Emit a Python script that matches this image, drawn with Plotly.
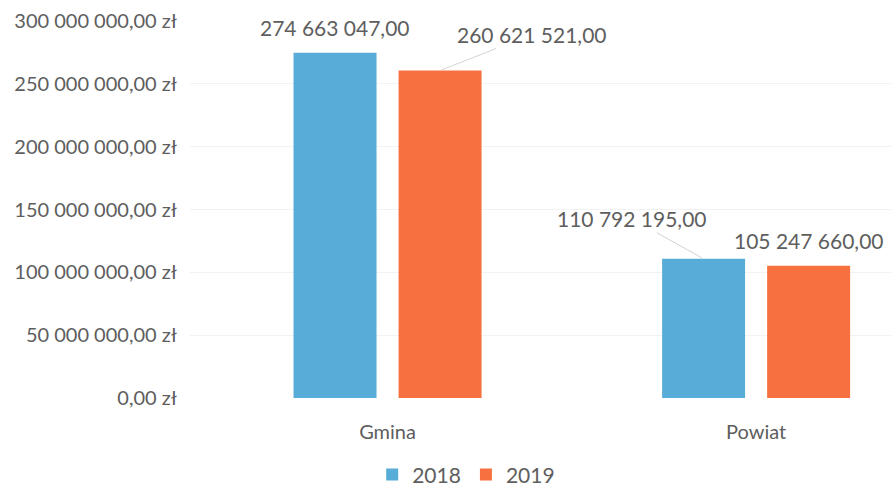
import plotly.graph_objects as go

categories = ["Gmina", "Powiat"]
series_names = ["2018", "2019"]
values_2018 = [274663047.00, 110792195.00]
values_2019 = [260621521.00, 105247660.00]
tick_values = [0, 50e6, 100e6, 150e6, 200e6, 250e6, 300e6]
tick_labels = ["0,00 zł", "50 000 000,00 zł", "100 000 000,00 zł", "150 000 000,00 zł",
               "200 000 000,00 zł", "250 000 000,00 zł", "300 000 000,00 zł"]

colors = ["#58acd8", "#f6713f"]
text_color = "#5e5e5e"
FONT = "Lato"


def fmt(v):
    whole = int(round(v))
    s = f"{whole:,}".replace(",", " ")
    return s + ",00"


fig = go.Figure()
for name, vals, col in zip(series_names, [values_2018, values_2019], colors):
    fig.add_trace(go.Bar(x=categories, y=vals, name=name, marker=dict(color=col, line=dict(width=0))))

# data labels: (series index, category index, moved-label offsets)
bar_off = 52.5
label_specs = [
    (0, 0, None),          # directly above
    (1, 0, (92, -36)),     # moved, with leader line
    (0, 1, (-72, -40)),    # moved, with leader line
    (1, 1, None),
]
all_vals = [values_2018, values_2019]
for si, ci, mv in label_specs:
    v = all_vals[si][ci]
    xs = -bar_off if si == 0 else bar_off
    if mv is None:
        fig.add_annotation(x=categories[ci], y=v, xref="x", yref="y", xshift=xs, yshift=25,
                           text=fmt(v), showarrow=False,
                           font=dict(family=FONT, size=21, color=text_color))
    else:
        fig.add_annotation(x=categories[ci], y=v, xref="x", yref="y", xshift=xs,
                           text=fmt(v), showarrow=True, ax=mv[0], ay=mv[1],
                           arrowhead=0, arrowwidth=0.8, arrowcolor="#c8c8c8", standoff=2,
                           font=dict(family=FONT, size=21, color=text_color))

fig.update_layout(
    width=891, height=491,
    margin=dict(l=190, r=0, t=21, b=93),
    paper_bgcolor="white", plot_bgcolor="white",
    barmode="group", bargap=0.43, bargroupgap=0.21,
    font=dict(family=FONT, color=text_color, size=20),
    legend=dict(orientation="h", x=0.394, xanchor="center", yref="container", y=0.033, yanchor="middle",
                font=dict(size=21, color=text_color), itemwidth=30, traceorder="normal"),
    xaxis=dict(range=[-0.536, 1.366], showgrid=False, showline=False, ticks="",
               tickfont=dict(size=20, color=text_color), ticklabelstandoff=20),
    yaxis=dict(range=[0, 300e6], tickvals=tick_values, ticktext=tick_labels,
               showgrid=True, gridcolor="#f2f2f2", gridwidth=1, zeroline=False, showline=False,
               tickfont=dict(size=20, color=text_color), ticklabelstandoff=12),
)

fig.write_html("out.html", config={"displayModeBar": False},
               post_script="document.body.style.margin='0';")
